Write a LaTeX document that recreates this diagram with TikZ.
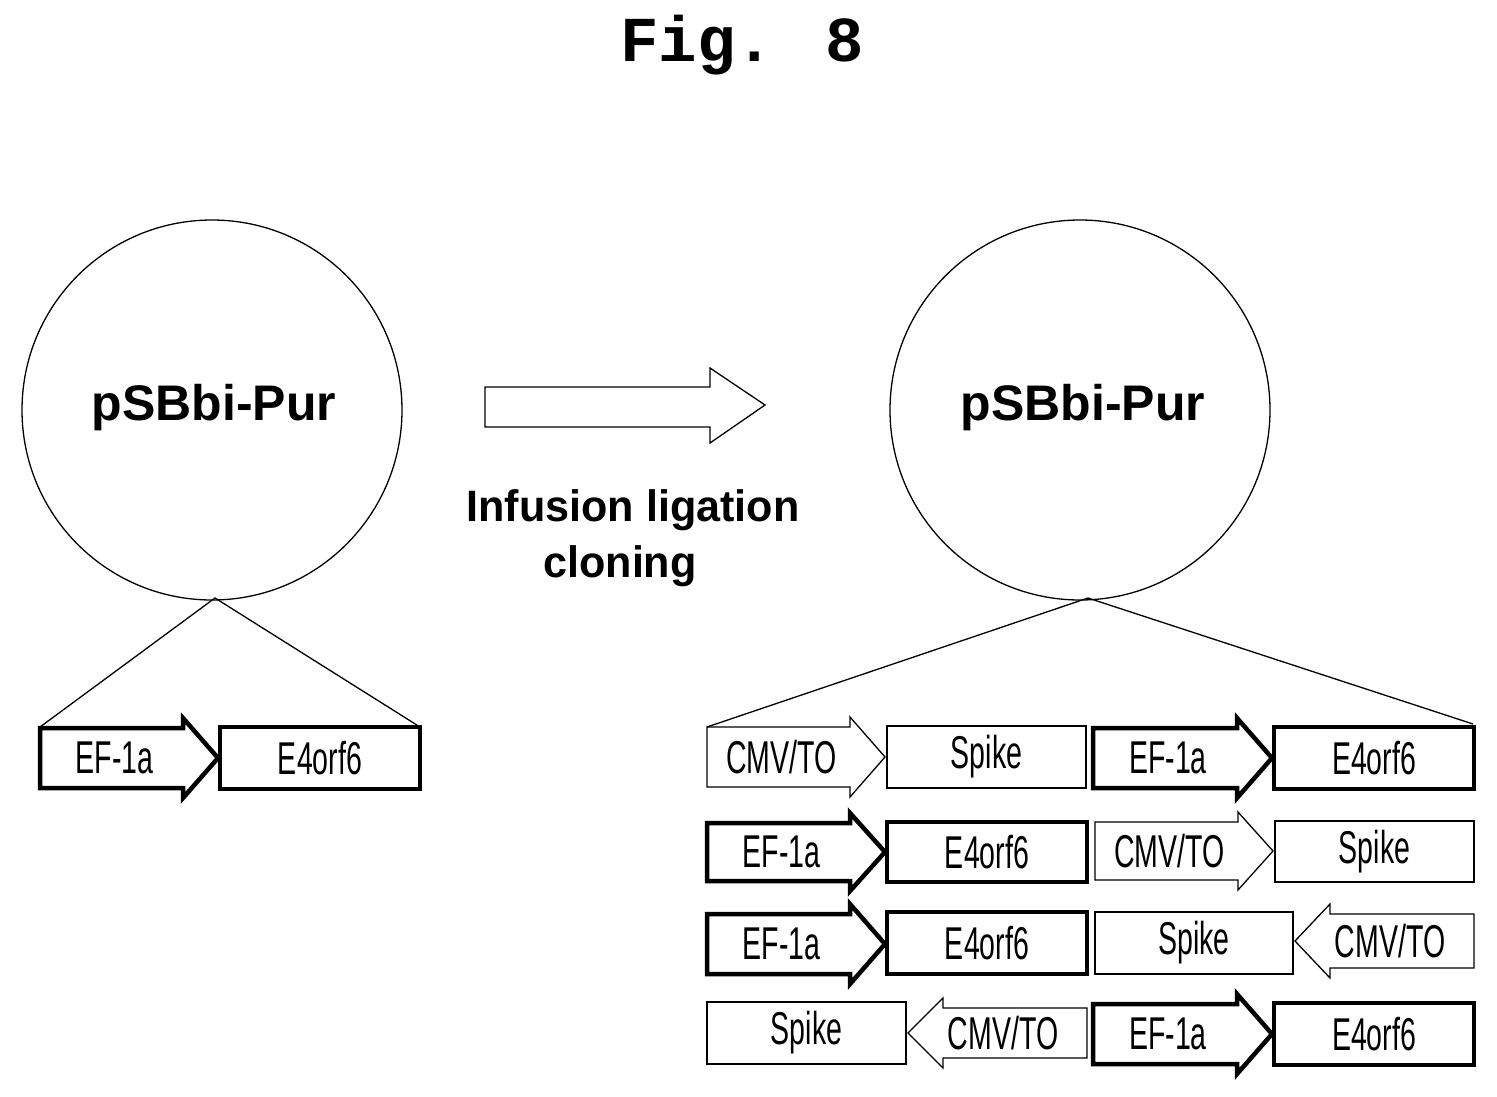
\documentclass[tikz,border=0pt]{standalone}
\usepackage{fontspec}
\setmainfont{Liberation Sans}
\newfontfamily\monof{Liberation Mono}
\begin{document}
\begin{tikzpicture}[x=1pt,y=-1pt,
  thin/.style={line width=1.3pt},
  thk/.style={line width=4.5pt,line join=miter},
  lab/.style={font=\fontsize{46}{46}\selectfont,xscale=0.62,inner sep=0},
  big/.style={font=\bfseries\fontsize{50}{50}\selectfont,xscale=1.0,inner sep=0}]
\useasboundingbox (0,0) rectangle (1497,1096);
\newcommand\rarr[7]{%
  \draw[#5] (#1,#3) -- ({#2-35},#3) -- ({#2-35},#3-10) -- (#2,{(#3+#4)/2}) -- ({#2-35},#4+10) -- ({#2-35},#4) -- (#1,#4) -- cycle;
  \node[lab] (#7) at ({(#1+#2-35)/2+3},{(#3+#4)/2}) {#6};}
\newcommand\larr[7]{%
  \draw[#5] (#1,#3) -- ({#2+35},#3) -- ({#2+35},#3-10) -- (#2,{(#3+#4)/2}) -- ({#2+35},#4+10) -- ({#2+35},#4) -- (#1,#4) -- cycle;
  \node[lab] (#7) at ({(#1+#2+35)/2-12},{(#3+#4)/2}) {#6};}
\newcommand\bx[7]{%
  \draw[#5] (#1,#3) rectangle (#2,#4);
  \node[lab] (#7) at ({(#1+#2)/2},{(#3+#4)/2}) {#6};}

\node[font=\monof\bfseries\fontsize{64}{64}\selectfont,inner sep=0] (title) at (742,45) {Fig. 8};

\node[circle,draw,thin,minimum size=380pt,inner sep=0] (c1) at (212,410) {};
\node[big] (t1) at (214,408) {pSBbi-Pur};
\node[circle,draw,thin,minimum size=380pt,inner sep=0] (c2) at (1080,410) {};
\node[big] (t2) at (1083,408) {pSBbi-Pur};

\coordinate (b1) at (215,598);
\coordinate (l1) at (40,727);
\coordinate (r1) at (420,727);
\draw[thin] (l1) -- (b1) -- (r1);
\coordinate (b2) at (1088,598);
\coordinate (l2) at (707,727);
\coordinate (r2) at (1473,724);
\draw[thin] (l2) -- (b2) -- (r2);

\draw[thin] (485,387) -- (710,387) -- (710,368) -- (765,405) -- (710,443) -- (710,427) -- (485,427) -- cycle;
\node[font=\bfseries\fontsize{44}{44}\selectfont,xscale=0.98,inner sep=0] (inf) at (633,510) {Infusion ligation};
\node[font=\bfseries\fontsize{44}{44}\selectfont,xscale=0.98,inner sep=0] (clo) at (620,566) {cloning};

\rarr{40}{218}{728}{788}{thk}{EF-1a}{a0}
\bx{220}{420}{727}{789}{thk}{E4orf6}{e0}

\rarr{707}{885}{727}{787}{thin}{CMV/TO}{c11}
\bx{887}{1086}{726}{788}{thin}{Spike}{s11}
\rarr{1093}{1272}{728}{788}{thk}{EF-1a}{a11}
\bx{1274}{1474}{727}{789}{thk}{E4orf6}{e11}

\rarr{707}{885}{823}{881}{thk}{EF-1a}{a21}
\bx{887}{1087}{822}{882}{thk}{E4orf6}{e21}
\rarr{1095}{1273}{822}{880}{thin}{CMV/TO}{c21}
\bx{1275}{1474}{821}{882}{thin}{Spike}{s21}

\rarr{707}{885}{914}{974}{thk}{EF-1a}{a31}
\bx{887}{1087}{912}{974}{thk}{E4orf6}{e31}
\bx{1095}{1293}{912}{974}{thin}{Spike}{s31}
\larr{1474}{1295}{914}{968}{thin}{CMV/TO}{c31}

\bx{707}{906}{1002}{1064}{thin}{Spike}{s41}
\larr{1087}{908}{1008}{1058}{thin}{CMV/TO}{c41}
\rarr{1093}{1272}{1004}{1064}{thk}{EF-1a}{a41}
\bx{1274}{1474}{1003}{1065}{thk}{E4orf6}{e41}
\end{tikzpicture}
\end{document}
